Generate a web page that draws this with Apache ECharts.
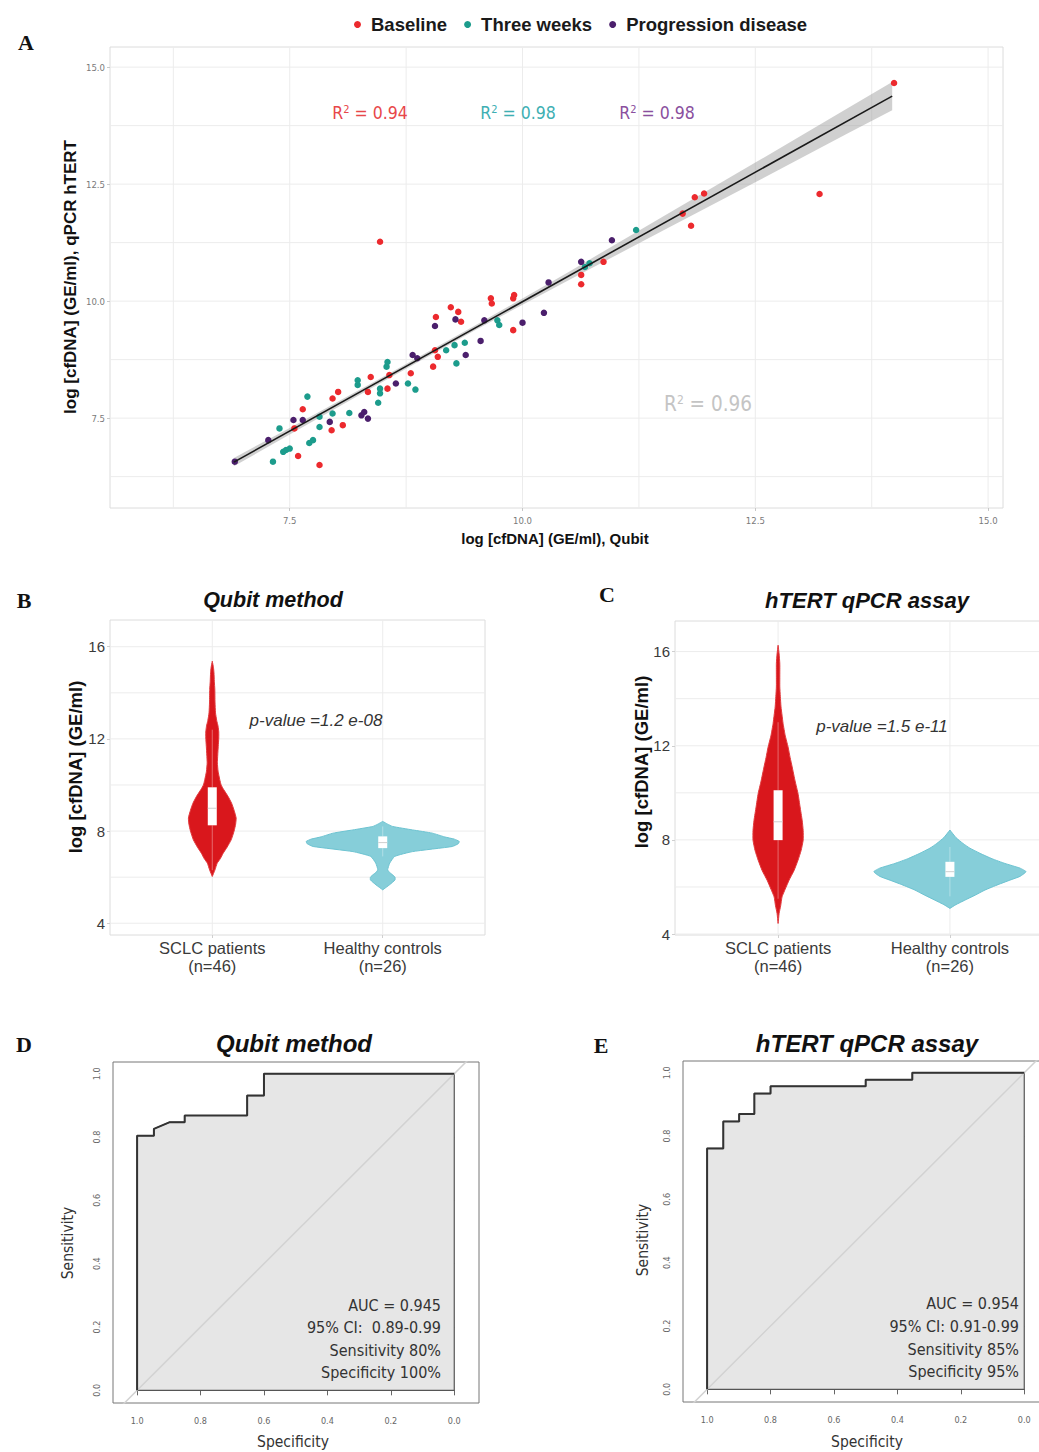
<!DOCTYPE html>
<html><head><meta charset="utf-8">
<script src="https://cdn.jsdelivr.net/npm/echarts@6/dist/echarts.min.js"></script>
<style>html,body{margin:0;padding:0;background:#fff}#c{width:1039px;height:1452px}</style>
</head><body><div id="c"></div>
<script>
// ---------- Panel A data ----------
const legendNames = ['Baseline', 'Three weeks', 'Progression disease'];
const baselineX = [8.47,7.82,7.59,7.55,7.64,7.95,8.07,7.96,8.02,8.37,8.34,8.55,8.57,8.80,9.04,9.09,9.06,9.07,9.23,9.31,9.34,9.66,9.67,9.90,9.91,9.90,10.63,10.63,10.87,11.72,11.81,11.85,11.95,13.19,13.99];
const baselineY = [11.27,6.50,6.69,7.28,7.69,7.24,7.35,7.92,8.06,8.38,8.06,8.13,8.42,8.46,8.60,8.81,8.95,9.66,9.87,9.77,9.56,10.06,9.95,10.06,10.13,9.38,10.56,10.36,10.84,11.87,11.61,12.22,12.30,12.29,14.66];
const threeWeeksX = [7.32,7.46,7.50,7.43,7.71,7.75,7.39,7.69,7.82,7.82,7.96,8.14,8.23,8.23,8.45,8.47,8.47,8.54,8.55,8.77,8.85,9.18,9.29,9.27,9.38,9.73,9.75,10.67,10.72,11.22];
const threeWeeksY = [6.57,6.82,6.85,6.78,6.97,7.03,7.28,7.96,7.53,7.31,7.60,7.61,8.31,8.21,7.83,8.13,8.03,8.60,8.70,8.24,8.11,8.95,8.67,9.06,9.11,9.59,9.49,10.73,10.81,11.52];
const progressionX = [6.91,7.27,7.54,7.64,7.93,8.27,8.30,8.34,8.64,8.82,8.87,9.06,9.28,9.39,9.55,9.59,10.00,10.23,10.28,10.63,10.96];
const progressionY = [6.57,7.03,7.46,7.46,7.42,7.56,7.63,7.49,8.24,8.85,8.78,9.47,9.61,8.85,9.15,9.59,9.54,9.75,10.40,10.84,11.30];
const aTicks = [7.5, 10, 12.5, 15];
const aGridVals = [6.25, 7.5, 8.75, 10, 11.25, 12.5, 13.75, 15];
const regX = [6.9, 13.97];
const regY = [6.56, 14.38];
const bandX  = [6.9, 7.5, 8.5, 9.5, 10.5, 11.5, 12.5, 13.5, 13.97];
const bandLo = [6.47, 7.15, 8.28, 9.39, 10.45, 11.50, 12.54, 13.59, 14.08];
const bandHi = [6.65, 7.29, 8.38, 9.49, 10.63, 11.80, 12.96, 14.13, 14.68];
const r2Groups = ['0.94', '0.98', '0.98'];
const r2All = '0.96';

// ---------- Panels B / C data ----------
const groupCats = ['SCLC patients\n(n=46)', 'Healthy controls\n(n=26)'];
const vTicks = [4, 8, 12, 16];
const vGridVals = [4, 6, 8, 10, 12, 14, 16];
const catPos = [1, 2];
// violin profiles: value levels and half-widths (in category units)
const bSclcY = [6.03,6.3,6.61,6.8,7.04,7.3,7.62,8.0,8.3,8.57,8.9,9.2,9.5,9.8,10.0,10.23,10.6,10.96,11.3,11.68,12.04,12.3,12.55,12.8,13.13,13.6,14.14,14.5,14.87,15.1,15.37];
const bSclcW = [0,.015,.029,.047,.064,.087,.111,.128,.137,.140,.128,.114,.093,.067,.052,.044,.034,.030,.032,.035,.038,.038,.034,.026,.019,.016,.015,.012,.010,.007,0];
const bHealthyY = [5.45,5.67,5.88,6.0,6.10,6.2,6.32,6.61,6.90,7.11,7.33,7.45,7.55,7.65,7.75,7.91,8.05,8.20,8.30,8.42];
const bHealthyW = [0,.040,.072,.072,.058,.041,.029,.041,.070,.175,.408,.443,.449,.420,.361,.291,.175,.058,.029,0];
const cSclcY = [4.45,4.88,5.2,5.58,5.9,6.29,6.7,7.14,7.55,7.99,8.4,8.84,9.4,9.97,10.5,11.10,11.5,11.95,12.45,12.95,13.3,13.65,14.1,14.5,15.0,15.49,15.9,16.27];
const cSclcW = [0,.006,.015,.023,.041,.064,.093,.116,.134,.146,.146,.140,.128,.116,.099,.082,.070,.058,.041,.029,.023,.017,.013,.010,.010,.010,.006,0];
const cHealthyY = [5.09,5.25,5.44,5.65,5.87,6.1,6.29,6.45,6.65,6.8,7.0,7.2,7.43,7.65,7.85,8.1,8.42];
const cHealthyW = [0,.035,.087,.146,.204,.280,.349,.408,.443,.408,.320,.245,.175,.116,.076,.035,0];
// box stats: [lower whisker, q1, median, q3, upper whisker]
const bSclcBox = [6.3, 8.25, 8.99, 9.9, 12.4];
const bHealthyBox = [6.9, 7.26, 7.5, 7.77, 8.2];
const cSclcBox = [5.5, 7.99, 8.77, 10.11, 13.0];
const cHealthyBox = [5.6, 6.43, 6.65, 7.07, 7.7];
const pValueB = 'p-value =1.2 e-08';
const pValueC = 'p-value =1.5 e-11';

// ---------- Panels D / E data ----------
const rocTicks = [0, 0.2, 0.4, 0.6, 0.8, 1.0];
const rocSpecD = [1.0, 1.0, 0.947, 0.947, 0.897, 0.850, 0.850, 0.653, 0.653, 0.600, 0.600, 0.0];
const rocSensD = [0.0, 0.804, 0.804, 0.826, 0.847, 0.847, 0.868, 0.868, 0.931, 0.931, 1.0, 1.0];
const rocSpecE = [1.0, 1.0, 0.949, 0.949, 0.899, 0.899, 0.851, 0.851, 0.80, 0.80, 0.50, 0.50, 0.353, 0.353, 0.0];
const rocSensE = [0.0, 0.761, 0.761, 0.846, 0.846, 0.870, 0.870, 0.934, 0.934, 0.957, 0.957, 0.978, 0.978, 1.0, 1.0];
const diagSpec = [1.2, -0.2];
const diagSens = [-0.2, 1.2];
const statsD = ['AUC = 0.945', '95% CI:  0.89-0.99', 'Sensitivity 80%', 'Specificity 100%'];
const statsE = ['AUC = 0.954', '95% CI: 0.91-0.99', 'Sensitivity 85%', 'Specificity 95%'];

// ---------- styling ----------
const SANS = "'Liberation Sans', Arial, sans-serif";
const NARROW = "'Liberation Sans Narrow', 'DejaVu Sans Condensed', 'Liberation Sans', sans-serif";
const SERIF = "'Liberation Serif', 'DejaVu Serif', serif";
const COL = { base: '#ec2a2e', three: '#1c9c8c', prog: '#4b1f6c' };

const zip = (a, b) => a.map((v, i) => [v, b[i]]);

function gridLineSeries(gi, vals, dir, color, w) {
  return {
    type: 'custom', xAxisIndex: gi, yAxisIndex: gi, silent: true, z: 1, animation: false,
    data: vals.map(v => [v, v]),
    renderItem: (p, api) => {
      const pt = api.coord([api.value(0), api.value(1)]);
      const cs = p.coordSys;
      const shape = dir === 'v'
        ? { x1: pt[0], y1: cs.y, x2: pt[0], y2: cs.y + cs.height }
        : { x1: cs.x, y1: pt[1], x2: cs.x + cs.width, y2: pt[1] };
      return { type: 'line', shape, style: { stroke: color, lineWidth: w } };
    }
  };
}

function violinSeries(gi, center, ys, ws, fill, stroke) {
  return {
    type: 'custom', xAxisIndex: gi, yAxisIndex: gi, silent: true, z: 3, animation: false,
    data: [[center, ys[0]]],
    renderItem: (p, api) => {
      const pts = [];
      for (let i = 0; i < ys.length; i++) pts.push(api.coord([center + ws[i], ys[i]]));
      for (let i = ys.length - 1; i >= 0; i--) pts.push(api.coord([center - ws[i], ys[i]]));
      return { type: 'polygon', shape: { points: pts, smooth: 0.15 }, style: { fill, stroke, lineWidth: 1 } };
    }
  };
}

function boxSeries(gi, center, s) {
  return {
    type: 'custom', xAxisIndex: gi, yAxisIndex: gi, silent: true, z: 5, animation: false,
    data: [[center, s[2]]],
    renderItem: (p, api) => {
      const c = v => api.coord([center, v]);
      const lo = c(s[0]), q1 = c(s[1]), md = c(s[2]), q3 = c(s[3]), hi = c(s[4]);
      const hw = 4.5;
      return {
        type: 'group', children: [
          { type: 'line', shape: { x1: lo[0], y1: lo[1], x2: q1[0], y2: q1[1] }, style: { stroke: 'rgba(255,255,255,0.45)', lineWidth: 0.8 } },
          { type: 'line', shape: { x1: q3[0], y1: q3[1], x2: hi[0], y2: hi[1] }, style: { stroke: 'rgba(255,255,255,0.45)', lineWidth: 0.8 } },
          { type: 'rect', shape: { x: q3[0] - hw, y: q3[1], width: 2 * hw, height: q1[1] - q3[1] }, style: { fill: '#fff' } },
          { type: 'line', shape: { x1: md[0] - hw, y1: md[1], x2: md[0] + hw, y2: md[1] }, style: { stroke: '#cfcfcf', lineWidth: 1 } }
        ]
      };
    }
  };
}

function rocFillSeries(gi, spec, sens) {
  return {
    type: 'custom', xAxisIndex: gi, yAxisIndex: gi, silent: true, z: 2, animation: false,
    data: [[spec[0], sens[0]]],
    renderItem: (p, api) => {
      const pts = spec.map((s, i) => api.coord([s, sens[i]]));
      pts.push(api.coord([0, 0]));
      return { type: 'polygon', shape: { points: pts }, style: { fill: '#e6e6e6', stroke: '#555', lineWidth: 1.2 } };
    }
  };
}

function vioXAxis(gi) {
  return {
    gridIndex: gi, type: 'value', min: 0.4, max: 2.6,
    axisLine: { show: false }, splitLine: { show: false },
    axisTick: { show: true, length: 3, lineStyle: { color: '#cfcfcf' }, customValues: catPos },
    axisLabel: { customValues: catPos, formatter: v => groupCats[Math.round(v) - 1], fontSize: 16.5, lineHeight: 18, color: '#3a3a3a', margin: 4, fontFamily: SANS }
  };
}
function vioYAxis(gi, mn, mx) {
  return {
    gridIndex: gi, type: 'value', min: mn, max: mx,
    axisLine: { show: false }, splitLine: { show: false },
    axisTick: { show: true, length: 3, lineStyle: { color: '#cfcfcf' }, customValues: vTicks },
    axisLabel: { customValues: vTicks, fontSize: 15, color: '#3a3a3a', margin: 5, fontFamily: SANS }
  };
}
function rocXAxis(gi) {
  return {
    gridIndex: gi, type: 'value', min: -0.078, max: 1.076, inverse: true,
    axisLine: { show: false }, splitLine: { show: false },
    axisTick: { show: true, length: 5, lineStyle: { color: '#666' }, customValues: rocTicks },
    axisLabel: { customValues: rocTicks, formatter: v => v.toFixed(1), fontSize: 9, color: '#666', margin: 13, fontFamily: NARROW }
  };
}
function rocYAxis(gi) {
  return {
    gridIndex: gi, type: 'value', min: -0.04, max: 1.037,
    axisLine: { show: false }, splitLine: { show: false },
    axisTick: { show: true, length: 5, lineStyle: { color: '#666' }, customValues: rocTicks },
    axisLabel: { customValues: rocTicks, formatter: v => v.toFixed(1), rotate: 90, fontSize: 9, color: '#666', margin: 12, fontFamily: NARROW }
  };
}

function txt(x, y, text, o) {
  o = o || {};
  return {
    type: 'text', x, y, rotation: o.rot || 0, silent: true, z: 50,
    style: Object.assign({
      text, fill: o.fill || '#111', fontSize: o.size || 14, fontWeight: o.weight || 'normal',
      fontStyle: o.style || 'normal', fontFamily: o.family || SANS,
      align: o.align || 'center', verticalAlign: 'middle', textAlign: o.align || 'center', textVerticalAlign: 'middle'
    }, o.rich ? { rich: o.rich } : {})
  };
}
function r2(x, y, val, color, size) {
  return txt(x, y, '{r|R}{s|2}{r| = ' + val + '}', {
    rich: {
      r: { fontSize: size, fill: color, fontFamily: NARROW },
      s: { fontSize: Math.round(size * 0.6), fill: color, fontFamily: NARROW, verticalAlign: 'top' }
    }
  });
}

const graphics = [
  txt(26, 42, 'A', { family: SERIF, weight: 'bold', size: 22 }),
  txt(24, 600, 'B', { family: SERIF, weight: 'bold', size: 22 }),
  txt(607, 594, 'C', { family: SERIF, weight: 'bold', size: 22 }),
  txt(24, 1044, 'D', { family: SERIF, weight: 'bold', size: 22 }),
  txt(601, 1045, 'E', { family: SERIF, weight: 'bold', size: 22 }),
  // axis names A
  txt(70, 277, 'log [cfDNA] (GE/ml), qPCR hTERT', { weight: 'bold', size: 17, rot: Math.PI / 2 }),
  txt(555, 538, 'log [cfDNA] (GE/ml), Qubit', { weight: 'bold', size: 15 }),
  r2(370, 113, r2Groups[0], '#e8474a', 17.5),
  r2(518, 113, r2Groups[1], '#3eafb3', 17.5),
  r2(657, 113, r2Groups[2], '#8a4f9e', 17.5),
  r2(708, 404, r2All, '#c4c4c4', 20.5),
  // B / C
  txt(273, 600, 'Qubit method', { weight: 'bold', style: 'italic', size: 21.5 }),
  txt(867, 600, 'hTERT qPCR assay', { weight: 'bold', style: 'italic', size: 22 }),
  txt(75, 767, 'log [cfDNA] (GE/ml)', { weight: 'bold', size: 18.5, rot: Math.PI / 2 }),
  txt(641, 762, 'log [cfDNA] (GE/ml)', { weight: 'bold', size: 18.5, rot: Math.PI / 2 }),
  txt(316, 720, pValueB, { style: 'italic', size: 17, fill: '#333' }),
  txt(882, 726, pValueC, { style: 'italic', size: 17, fill: '#333' }),
  // D / E
  txt(294, 1043, 'Qubit method', { weight: 'bold', style: 'italic', size: 24 }),
  txt(867, 1043, 'hTERT qPCR assay', { weight: 'bold', style: 'italic', size: 24 }),
  txt(68, 1243, 'Sensitivity', { size: 15.5, family: NARROW, fill: '#333', rot: Math.PI / 2 }),
  txt(293, 1442, 'Specificity', { size: 15.5, family: NARROW, fill: '#333' }),
  txt(643, 1240, 'Sensitivity', { size: 15.5, family: NARROW, fill: '#333', rot: Math.PI / 2 }),
  txt(867, 1442, 'Specificity', { size: 15.5, family: NARROW, fill: '#333' })
];
const yD = [1305, 1327, 1350, 1372];
const yE = [1303, 1326, 1349, 1371];
statsD.forEach((s, i) => graphics.push(txt(441, yD[i], s, { size: 16, family: NARROW, fill: '#333', align: 'right' })));
statsE.forEach((s, i) => graphics.push(txt(1019, yE[i], s, { size: 16, family: NARROW, fill: '#333', align: 'right' })));

const option = {
  animation: false,
  backgroundColor: '#fff',
  textStyle: { fontFamily: SANS },
  legend: {
    data: legendNames, left: 349, top: 10, icon: 'circle', itemWidth: 7, itemHeight: 7, itemGap: 17,
    textStyle: { fontSize: 18.5, fontWeight: 'bold', color: '#1a1a1a', fontFamily: SANS, padding: [0, 0, 0, 5] }
  },
  grid: [
    { left: 110, top: 47, width: 893, height: 461, show: true, borderColor: '#dcdcdc', borderWidth: 1, backgroundColor: 'transparent', outerBoundsMode: 'none' },
    { left: 110, top: 620, width: 375, height: 315, show: true, borderColor: '#dcdcdc', borderWidth: 1, backgroundColor: 'transparent', outerBoundsMode: 'none' },
    { left: 675, top: 621, width: 378, height: 314, show: true, borderColor: '#dcdcdc', borderWidth: 1, backgroundColor: 'transparent', outerBoundsMode: 'none' },
    { left: 113, top: 1062, width: 366, height: 341, show: true, borderColor: '#777', borderWidth: 1, backgroundColor: 'transparent', outerBoundsMode: 'none' },
    { left: 683, top: 1061, width: 366, height: 341, show: true, borderColor: '#777', borderWidth: 1, backgroundColor: 'transparent', outerBoundsMode: 'none' }
  ],
  xAxis: [
    {
      gridIndex: 0, type: 'value', min: 5.57, max: 15.16,
      axisLine: { show: false }, splitLine: { show: false },
      axisTick: { show: true, length: 3, lineStyle: { color: '#c8c8c8' }, customValues: aTicks },
      axisLabel: { customValues: aTicks, formatter: v => v.toFixed(1), fontSize: 9.5, color: '#7a7a7a', margin: 7, fontFamily: NARROW }
    },
    vioXAxis(1), vioXAxis(2), rocXAxis(3), rocXAxis(4)
  ],
  yAxis: [
    {
      gridIndex: 0, type: 'value', min: 5.58, max: 15.43,
      axisLine: { show: false }, splitLine: { show: false },
      axisTick: { show: true, length: 3, lineStyle: { color: '#c8c8c8' }, customValues: aTicks },
      axisLabel: { customValues: aTicks, formatter: v => v.toFixed(1), fontSize: 9.5, color: '#7a7a7a', margin: 5, fontFamily: NARROW }
    },
    vioYAxis(1, 3.49, 17.16), vioYAxis(2, 3.96, 17.30), rocYAxis(3), rocYAxis(4)
  ],
  graphic: { elements: graphics },
  series: [
    // Panel A
    gridLineSeries(0, aGridVals, 'v', '#ececec', 1),
    gridLineSeries(0, aGridVals, 'h', '#ececec', 1),
    {
      type: 'custom', xAxisIndex: 0, yAxisIndex: 0, silent: true, z: 2, animation: false,
      data: [[bandX[0], bandLo[0]]],
      renderItem: (p, api) => {
        const pts = bandX.map((x, i) => api.coord([x, bandHi[i]]));
        for (let i = bandX.length - 1; i >= 0; i--) pts.push(api.coord([bandX[i], bandLo[i]]));
        return { type: 'polygon', shape: { points: pts }, style: { fill: 'rgba(150,150,150,0.45)' } };
      }
    },
    { name: legendNames[0], type: 'scatter', xAxisIndex: 0, yAxisIndex: 0, z: 4, symbolSize: 6.5, itemStyle: { color: COL.base, opacity: 1 }, data: zip(baselineX, baselineY) },
    { name: legendNames[1], type: 'scatter', xAxisIndex: 0, yAxisIndex: 0, z: 4, symbolSize: 6.5, itemStyle: { color: COL.three, opacity: 1 }, data: zip(threeWeeksX, threeWeeksY) },
    { name: legendNames[2], type: 'scatter', xAxisIndex: 0, yAxisIndex: 0, z: 4, symbolSize: 6.5, itemStyle: { color: COL.prog, opacity: 1 }, data: zip(progressionX, progressionY) },
    { type: 'line', xAxisIndex: 0, yAxisIndex: 0, z: 6, symbol: 'none', silent: true, lineStyle: { color: '#1a1a1a', width: 1.6 }, data: zip(regX, regY) },
    // Panel B
    gridLineSeries(1, catPos, 'v', '#ececec', 1),
    gridLineSeries(1, vGridVals, 'h', '#ececec', 1),
    violinSeries(1, 1, bSclcY, bSclcW, '#d9171c', '#e23a3d'),
    violinSeries(1, 2, bHealthyY, bHealthyW, '#86ced9', '#6cc3d1'),
    boxSeries(1, 1, bSclcBox),
    boxSeries(1, 2, bHealthyBox),
    // Panel C
    gridLineSeries(2, catPos, 'v', '#ececec', 1),
    gridLineSeries(2, vGridVals, 'h', '#ececec', 1),
    violinSeries(2, 1, cSclcY, cSclcW, '#d9171c', '#e23a3d'),
    violinSeries(2, 2, cHealthyY, cHealthyW, '#86ced9', '#6cc3d1'),
    boxSeries(2, 1, cSclcBox),
    boxSeries(2, 2, cHealthyBox),
    // Panel D
    rocFillSeries(3, rocSpecD, rocSensD),
    { type: 'line', xAxisIndex: 3, yAxisIndex: 3, z: 3, symbol: 'none', silent: true, clip: true, lineStyle: { color: '#d2d2d2', width: 1.5 }, data: zip(diagSpec, diagSens) },
    { type: 'line', xAxisIndex: 3, yAxisIndex: 3, z: 4, symbol: 'none', silent: true, lineStyle: { color: '#333', width: 2 }, data: zip(rocSpecD, rocSensD) },
    // Panel E
    rocFillSeries(4, rocSpecE, rocSensE),
    { type: 'line', xAxisIndex: 4, yAxisIndex: 4, z: 3, symbol: 'none', silent: true, clip: true, lineStyle: { color: '#d2d2d2', width: 1.5 }, data: zip(diagSpec, diagSens) },
    { type: 'line', xAxisIndex: 4, yAxisIndex: 4, z: 4, symbol: 'none', silent: true, lineStyle: { color: '#333', width: 2 }, data: zip(rocSpecE, rocSensE) }
  ]
};

const chart = echarts.init(document.getElementById('c'), null, { renderer: 'svg', width: 1039, height: 1452 });
chart.setOption(option);
</script></body></html>
